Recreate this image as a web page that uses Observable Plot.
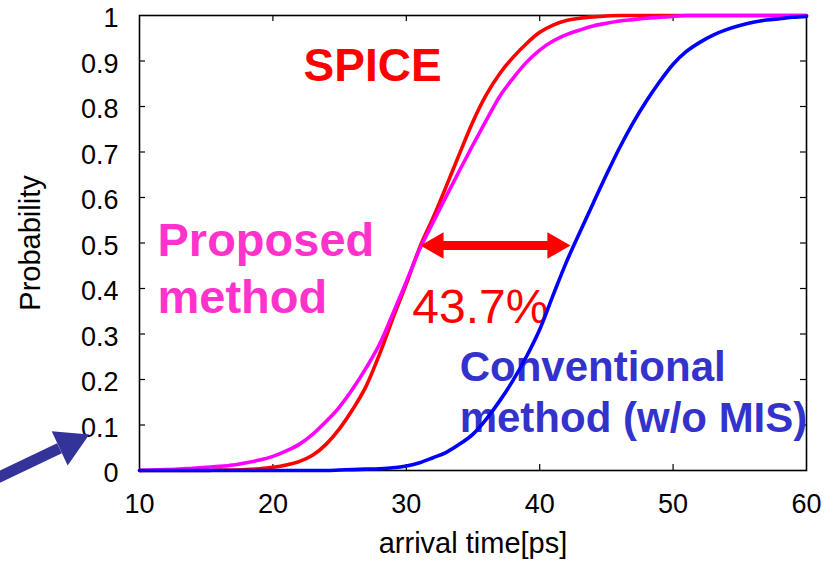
<!DOCTYPE html>
<html>
<head>
<meta charset="utf-8">
<script src="https://cdn.jsdelivr.net/npm/d3@7"></script>
<script src="https://cdn.jsdelivr.net/npm/@observablehq/plot@0.6"></script>
<style>
  html, body { margin: 0; padding: 0; background: #fff; }
</style>
</head>
<body>
<div id="chart"></div>
<script>
// ---- data ----
const arrivalTime = [10,11,12,13,14,15,16,17,18,19,20,21,22,23,24,25,26,27,28,29,30,31,32,33,34,35,36,37,38,39,40,41,42,43,44,45,46,47,48,49,50,51,52,53,54,55,56,57,58,59,60];
const spice = [0,0,0,0,0,0,0.001,0.001,0.002,0.004,0.007,0.012,0.02,0.034,0.058,0.092,0.135,0.186,0.256,0.335,0.41,0.49,0.555,0.625,0.697,0.767,0.826,0.872,0.908,0.938,0.963,0.979,0.989,0.994,0.997,0.999,1,1,1,1,1,1,1,1,1,1,1,1,1,1,1];
const proposed = [0,0.001,0.002,0.003,0.005,0.007,0.009,0.012,0.017,0.023,0.031,0.043,0.058,0.08,0.108,0.14,0.18,0.226,0.278,0.345,0.415,0.486,0.545,0.603,0.66,0.716,0.77,0.822,0.862,0.897,0.924,0.944,0.958,0.968,0.977,0.983,0.988,0.991,0.994,0.996,0.998,1,1,1,1,1,1,1,1,1,1];
const conventional = [0,0,0,0,0,0,0,0,0,0,0,0,0,0,0,0.001,0.002,0.003,0.004,0.006,0.01,0.017,0.028,0.04,0.058,0.08,0.113,0.153,0.198,0.25,0.31,0.385,0.458,0.523,0.587,0.65,0.71,0.764,0.812,0.855,0.893,0.921,0.941,0.957,0.969,0.978,0.985,0.99,0.993,0.996,0.998];
const xTicks = [10,20,30,40,50,60];
const yTicks = [0,0.1,0.2,0.3,0.4,0.5,0.6,0.7,0.8,0.9,1];
const xInnerTicks = [20,30,40,50];
const yInnerTicks = [0.1,0.2,0.3,0.4,0.5,0.6,0.7,0.8,0.9];

// annotations
const boldText = ["SPICE","Proposed","method","Conventional","method (w/o MIS)"];
const boldX = [22.3,11.35,11.35,34.0,34.0];
const boldY = [0.889,0.505,0.380,0.227,0.114];
const boldColor = ["#ff0000","#ff33cc","#ff33cc","#3333cc","#3333cc"];
const boldSize = [46,47,47,42,42];
const gapLabel = "43.7%";
const gapLabelX = 30.45;
const gapLabelY = 0.359;
// double arrow: gap at the median
const gapX = [31.07, 42.3];
const gapY = 0.4945;
// blue pointer arrow in left margin
const pointerX = [-1.2, 4.0];
const pointerY = [-0.024, 0.049];
const pointerTip = [6.33, 0.0807];

const series = [
  {name: "SPICE", values: spice, color: "#ff0000"},
  {name: "Proposed", values: proposed, color: "#ff00ff"},
  {name: "Conventional", values: conventional, color: "#0000ff"}
];
const rows = series.flatMap(s => arrivalTime.map((t, i) => ({t, p: s.values[i], name: s.name})));
const boldLabels = boldText.map((text, i) => ({text, x: boldX[i], y: boldY[i], color: boldColor[i], size: boldSize[i]}));

const fmt = d3.format("~g");

const chart = Plot.plot({
  width: 832,
  height: 568,
  marginLeft: 139,
  marginRight: 26,
  marginTop: 15,
  marginBottom: 98,
  style: {fontFamily: "'Liberation Sans', Arial, Helvetica, sans-serif", background: "#fff", color: "#000"},
  x: {domain: [10, 60]},
  y: {domain: [0, 1]},
  color: {domain: series.map(s => s.name), range: series.map(s => s.color)},
  marks: [
    Plot.axisX(xTicks, {tickSize: 0, tickPadding: 23, fontSize: 27, label: null, tickFormat: fmt}),
    Plot.axisY(yTicks, {tickSize: 0, tickPadding: 21, fontSize: 27, label: null, tickFormat: fmt, dy: 3}),
    // inward ticks
    Plot.ruleX(xInnerTicks, {x: d => d, insetTop: 449, stroke: "#000", strokeWidth: 1.2}),
    Plot.ruleX(xInnerTicks, {x: d => d, insetBottom: 449, stroke: "#000", strokeWidth: 1.2}),
    Plot.ruleY(yInnerTicks, {y: d => d, insetRight: 661, stroke: "#000", strokeWidth: 1.2}),
    Plot.ruleY(yInnerTicks, {y: d => d, insetLeft: 661, stroke: "#000", strokeWidth: 1.2}),
    Plot.frame({stroke: "#000", strokeWidth: 1.6}),
    // axis titles
    Plot.text(["Probability"], {frameAnchor: "left", textAnchor: "middle", dx: -109, rotate: -90, fontSize: 29, fill: "#000"}),
    Plot.text(["arrival time[ps]"], {frameAnchor: "bottom", textAnchor: "middle", dy: 82, fontSize: 29, fill: "#000"}),
    // annotation texts
    Plot.text(boldLabels, {x: "x", y: "y", text: "text", fill: d => d.color, fontWeight: "bold", fontSize: d => d.size, textAnchor: "start"}),
    Plot.text([gapLabel], {x: gapLabelX, y: gapLabelY, fill: "#ff0000", fontSize: 48, textAnchor: "start"}),
    // curves
    Plot.line(rows, {x: "t", y: "p", z: "name", stroke: "name", strokeWidth: 3.6, curve: "monotone-x"}),
    // double arrow
    Plot.ruleY([gapY], {x1: gapX[0], x2: gapX[1], insetLeft: 20, insetRight: 20, stroke: "#ff0000", strokeWidth: 9}),
    Plot.dot([0], {x: gapX[0], y: gapY, symbol: "triangle", r: 9.9, fill: "#ff0000", stroke: "none", rotate: -90, dx: 15.3}),
    Plot.dot([0], {x: gapX[1], y: gapY, symbol: "triangle", r: 9.9, fill: "#ff0000", stroke: "none", rotate: 90, dx: -15.3}),
    // pointer arrow
    Plot.link([0], {x1: pointerX[0], y1: pointerY[0], x2: pointerX[1], y2: pointerY[1], stroke: "#333399", strokeWidth: 11}),
    Plot.dot([0], {x: pointerTip[0], y: pointerTip[1], symbol: "triangle", r: 14, fill: "#333399", stroke: "none", rotate: 65, dx: -21, dy: 10})
  ]
});
document.getElementById("chart").appendChild(chart);
</script>
</body>
</html>
